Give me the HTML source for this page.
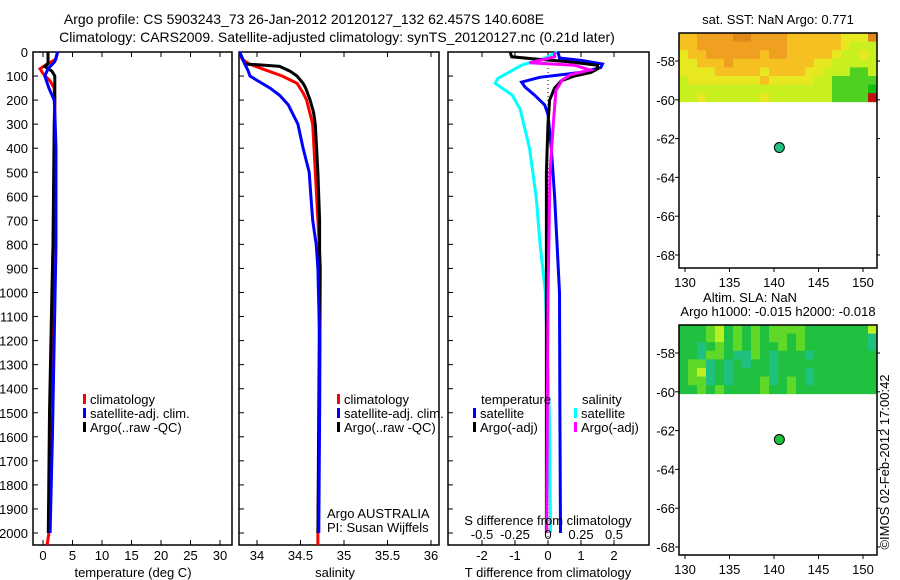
<!DOCTYPE html>
<html><head><meta charset="utf-8"><style>
html,body{margin:0;padding:0;background:#fff;}
svg{display:block;font-family:"Liberation Sans",sans-serif;}
</style></head><body>
<svg id="c" width="900" height="580" viewBox="0 0 900 580" xmlns="http://www.w3.org/2000/svg">
<text x="304" y="24" font-size="14" text-anchor="middle">Argo profile: CS 5903243_73 26-Jan-2012 20120127_132 62.457S 140.608E</text>
<text x="337" y="42" font-size="14" text-anchor="middle">Climatology: CARS2009. Satellite-adjusted climatology: synTS_20120127.nc (0.21d later)</text>
<g id="g"></g>
</svg>
<script>
// ---- data ----
const depthTicks=[0,100,200,300,400,500,600,700,800,900,1000,1100,1200,1300,1400,1500,1600,1700,1800,1900,2000];
const tempTicks=[0,5,10,15,20,25,30];
const salTicks=[34,34.5,35,35.5,36];
const tdTicks=[-2,-1,0,1,2];
const sdTickLabels=["-0.5","-0.25","0","0.25","0.5"];
const tClimD=[0,30,50,70,90,120,150,200,500,800,1500,2000,2050];
const tClimV=[2.4,2.2,0.7,-0.5,0,1.2,1.9,2.0,2.0,1.7,1.4,1.0,0.7];
const tSatD=[0,40,70,100,150,200,250,400,800,1200,1600,2000];
const tSatV=[2.5,2.0,0.85,0.3,1.0,1.9,2.0,2.2,2.2,1.9,1.6,1.2];
const tArgoD=[0,50,60,80,100,200,300,800,1000,1500,2000];
const tArgoV=[0.85,0.85,0.3,1.5,2.0,2.0,1.9,1.7,1.5,1.1,0.9];
const sClimD=[0,30,50,70,100,130,170,200,300,500,700,900,1500,2000,2050];
const sClimV=[33.8,33.83,33.91,34.06,34.29,34.46,34.53,34.57,34.64,34.67,34.70,34.73,34.72,34.70,34.70];
const sSatD=[0,50,80,100,120,150,180,220,300,400,500,600,700,800,900,1200,1500,2000];
const sSatV=[33.8,33.86,33.9,33.92,34.01,34.15,34.26,34.36,34.47,34.53,34.60,34.62,34.64,34.68,34.70,34.72,34.72,34.71];
const sArgoD=[0,50,55,60,80,100,130,150,200,250,300,500,700,1000,2000];
const sArgoV=[33.8,33.86,34.09,34.26,34.38,34.46,34.53,34.56,34.61,34.65,34.67,34.70,34.72,34.72,34.70];
const dTSatD=[0,25,35,50,65,85,105,125,145,180,220,260,400,600,1000,1500,2000];
const dTSatV=[0.3,0.35,1.0,1.65,1.6,1.0,-0.25,-0.8,-0.7,-0.4,-0.1,0,0.1,0.2,0.35,0.36,0.38];
const dTArgoD=[0,20,30,40,55,70,85,100,120,150,200,300,500,1000,2000];
const dTArgoV=[-1.15,-1.1,-0.3,0.6,1.5,1.5,1.3,0.8,0.4,0.2,0.05,0,-0.05,-0.05,-0.05];
const dSSatD=[0,25,55,110,130,180,240,400,600,800,1000,1500,2000];
const dSSatV=[0.07,-0.02,-0.2,-0.38,-0.4,-0.27,-0.21,-0.14,-0.09,-0.06,-0.02,0.01,0.02];
const dSArgoD=[0,20,45,55,75,95,115,160,300,500,1000,2000];
const dSArgoV=[0.05,0.05,-0.14,0.2,0.32,0.17,0.11,0.06,0.04,0.015,0,-0.01];
const lonTicks=[130,135,140,145,150];
const latTicks=[-58,-60,-62,-64,-66,-68];
const argoLon=140.6, argoLat=-62.46;
const sstGrid=["4455556655554444443336","4455555555554444443222","3445555554554444432232","3344454444444443322222","3333444443444433222112","2333333334333332211111","2222222222222222211110","2232222223222222211117"];
const slaGrid=["1112312121222211111113","1112312121221211111110","1101212121121211111110","1102210021011101111111","1220101011011111111111","1230101111011101111111","1220101112012101111111","1121211112112111111111"];
const sstColors=["#10c010","#50d020","#c8f020","#e8e820","#f5c020","#f0a020","#e08818","#c01010"];
const slaColors=["#20c080","#20c040","#60d828","#b8f020","#e0f020"];

// ---- helpers ----
const NS="http://www.w3.org/2000/svg";
const G=document.getElementById('g');
function el(tag,attrs,parent){const e=document.createElementNS(NS,tag);for(const k in attrs)e.setAttribute(k,attrs[k]);(parent||G).appendChild(e);return e;}
function txt(x,y,s,attrs){const e=el('text',Object.assign({x:x,y:y,'font-size':13},attrs||{}));e.textContent=s;return e;}
const Y0=52,YS=0.2405,PB=545;
const yD=d=>Y0+d*YS;
const xT=t=>43+t*5.9;
const xS=s=>257+(s-34)*87;
const xDT=t=>548+t*33;
const xDS=s=>548+s*132;

function panel(x0,x1,name){
  const r=el('rect',{x:x0,y:Y0,width:x1-x0,height:PB-Y0,fill:'none',stroke:'#000','stroke-width':1.5});
  
  
  depthTicks.forEach(d=>{el('line',{x1:x0,x2:x0+5,y1:yD(d),y2:yD(d),stroke:'#000'});});
}
function line(ds,vs,fx,color,name,w){
  const p=ds.map((d,i)=>fx(vs[i]).toFixed(1)+','+yD(d).toFixed(1)).join(' ');
  const e=el('polyline',{points:p,fill:'none',stroke:color,'stroke-width':w||3});
  
  
}
function xticks(vals,fx,labels,ly){
  vals.forEach((v,i)=>{const x=fx(v);
    el('line',{x1:x,x2:x,y1:Y0,y2:Y0+5,stroke:'#000'});
    el('line',{x1:x,x2:x,y1:PB,y2:PB-5,stroke:'#000'});
    const t=txt(x,ly,labels?labels[i]:String(v),{'text-anchor':'middle'});
    
    
  });
}
function legend(x,y,items){
  items.forEach((it,i)=>{
    el('rect',{x:x,y:y+i*14-10,width:3,height:10,fill:it[0]});
    const t=txt(x+7,y+i*14,it[1]);
    
    
  });
}

// depth labels
depthTicks.forEach(d=>{const t=txt(28,yD(d)+5,String(d),{'text-anchor':'end'});
  
  });

// panel 1 temperature
panel(33,232,'temperature-panel');
xticks(tempTicks,xT,null,560);
line(tClimD,tClimV,xT,'#f00','temp-climatology-line');
line(tArgoD,tArgoV,xT,'#000','temp-argo-line');
line(tSatD,tSatV,xT,'#00f','temp-satellite-line');
let t1=txt(133,577,'temperature (deg C)',{'text-anchor':'middle'});

legend(83,404,[['#f00','climatology'],['#00f','satellite-adj. clim.'],['#000','Argo(..raw -QC)']]);

// panel 2 salinity
panel(239,439,'salinity-panel');
xticks(salTicks,xS,null,560);
line(sClimD,sClimV,xS,'#f00','sal-climatology-line');
line(sArgoD,sArgoV,xS,'#000','sal-argo-line');
line(sSatD,sSatV,xS,'#00f','sal-satellite-line');
let t2=txt(335,577,'salinity',{'text-anchor':'middle'});

legend(337,404,[['#f00','climatology'],['#00f','satellite-adj. clim.'],['#000','Argo(..raw -QC)']]);
let t3=txt(327,518,'Argo AUSTRALIA');
let t4=txt(327,532,'PI: Susan Wijffels');

// panel 3 differences
panel(448,649,'difference-panel');
xticks(tdTicks,xDT,null,560);
el('line',{x1:548,x2:548,y1:Y0,y2:PB,stroke:'#000','stroke-dasharray':'1,3'});
line(dSSatD,dSSatV,xDS,'#0ff','sal-diff-satellite-line');
line(dTSatD,dTSatV,xDT,'#00f','temp-diff-satellite-line');
line(dTArgoD,dTArgoV,xDT,'#000','temp-diff-argo-line');
line(dSArgoD,dSArgoV,xDS,'#f0f','sal-diff-argo-line');
sdTickLabels.forEach((s,i)=>{const t=txt(xDT(tdTicks[i]),539,s,{'text-anchor':'middle'});
  });
let t5=txt(548,525,'S difference from climatology',{'text-anchor':'middle'});

let t6=txt(548,577,'T difference from climatology',{'text-anchor':'middle'});

let t7=txt(481,404,'temperature');
let t8=txt(582,404,'salinity');
legend(473,418,[['#00f','satellite'],['#000','Argo(-adj)']]);
legend(574,418,[['#0ff','satellite'],['#f0f','Argo(-adj)']]);

// maps
function map(top,bottom,grid,colors,name,dotColor){
  const L=679,R=877;
  const xL=lon=>685+(lon-130)*8.9;
  const yL=lat=>top+28+(-58-lat)*19.4;
  const latBot=-60.1;
  const nR=grid.length,nC=grid[0].length;
  const cw=(R-L)/nC, ch=(yL(latBot)-top)/nR;
  grid.forEach((row,ri)=>{for(let ci=0;ci<nC;ci++){
    const c=el('rect',{x:(L+ci*cw).toFixed(2),y:(top+ri*ch).toFixed(2),width:(cw+0.4).toFixed(2),height:(ch+0.4).toFixed(2),fill:colors[+row[ci]]});
    
    
  }});
  const b=el('rect',{x:L,y:top,width:R-L,height:bottom-top,fill:'none',stroke:'#000','stroke-width':1.5});
  
  
  latTicks.forEach(l=>{const y=yL(l);el('line',{x1:L-4,x2:L,y1:y,y2:y,stroke:'#000'});el('line',{x1:R,x2:R+3,y1:y,y2:y,stroke:'#000'});
    const t=txt(L-4,y+5,String(l),{'text-anchor':'end'});});
  lonTicks.forEach(l=>{const x=xL(l);el('line',{x1:x,x2:x,y1:bottom,y2:bottom+4,stroke:'#000'});
    const t=txt(x,bottom+19,String(l),{'text-anchor':'middle'});});
  const d=el('circle',{cx:xL(argoLon),cy:yL(argoLat),r:5,fill:dotColor,stroke:'#000','stroke-width':1});
  
  
}
map(33,268,sstGrid,sstColors,'sst-map','#20c080');
map(325,555,slaGrid,slaColors,'sla-map','#20c040');
let m1=txt(778,24,'sat. SST: NaN Argo: 0.771',{'text-anchor':'middle'});
let m2=txt(750,302,'Altim. SLA: NaN',{'text-anchor':'middle'});
let m3=txt(778,316,'Argo h1000: -0.015 h2000: -0.018',{'text-anchor':'middle'});
let m4=txt(0,0,'©IMOS 02-Feb-2012 17:00:42',{'text-anchor':'middle',transform:'translate(889,462) rotate(-90)'});

</script>
</body></html>
